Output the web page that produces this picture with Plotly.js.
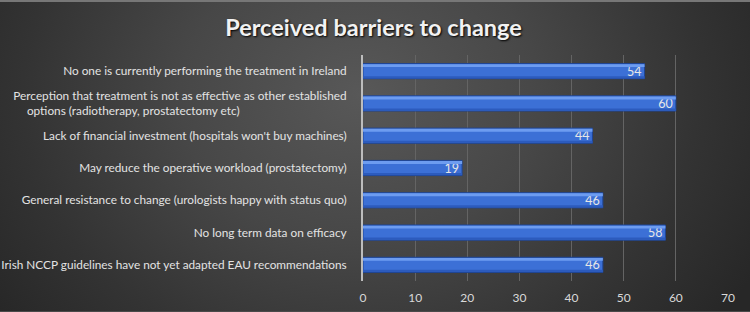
<!DOCTYPE html>
<html>
<head>
<meta charset="utf-8">
<script src="https://cdn.plot.ly/plotly-3.0.1.min.js"></script>
<style>
  html, body { margin: 0; padding: 0; background: #262626; }
  #chart {
    width: 750px; height: 312px; box-sizing: border-box;
    border-top: 2px solid #777777;
    border-bottom: 1px solid #4a4a4a;
    background: radial-gradient(ellipse 60% 120% at 48% 30%, #585858 0%, #474747 40%, #333333 75%, #272727 100%);
  }
</style>
</head>
<body>
<div id="chart"></div>
<script>
// Survey responses: perceived barriers to change (counts)
// invisible trailing run so the wrapped second line sits centred under the first
const pad = "<span style='color:rgba(0,0,0,0)'>oooooooooooooooo</span>";
const barriers = [
  "No one is currently performing the treatment in Ireland",
  "Perception that treatment is not as effective as other established<br>options (radiotherapy, prostatectomy etc)" + pad,
  "Lack of financial investment (hospitals won't buy machines)",
  "May reduce the operative workload (prostatectomy)",
  "General resistance to change (urologists happy with status quo)",
  "No long term data on efficacy",
  "Irish NCCP guidelines have not yet adapted EAU recommendations"
];
const responses = [54, 60, 44, 19, 46, 58, 46];
const xTicks = [0, 10, 20, 30, 40, 50, 60, 70];

const fontFam = "Lato, 'Open Sans', sans-serif";

// main bar body
const body = {
  type: "bar", orientation: "h",
  x: responses, y: barriers,
  width: 0.47,
  marker: { color: "#3c70d6", line: { color: "#1f4594", width: 1 } },
  text: responses.map(String),
  textposition: "inside", insidetextanchor: "end", constraintext: "none",
  textangle: 0,
  textfont: { family: fontFam, size: 12.5, color: "#e6e6e6" },
  cliponaxis: false,
  hoverinfo: "x+y"
};
// light band along the top edge of each bar
const shine = {
  type: "bar", orientation: "h",
  x: responses, y: barriers,
  width: 0.09, offset: -0.215,
  marker: { color: "#6d9cf0", line: { width: 0 } },
  hoverinfo: "skip"
};
// darker band along the bottom edge
const shade = {
  type: "bar", orientation: "h",
  x: responses, y: barriers,
  width: 0.07, offset: 0.155,
  marker: { color: "#2c5bbd", line: { width: 0 } },
  hoverinfo: "skip"
};

const layout = {
  width: 750, height: 309,
  paper_bgcolor: "rgba(0,0,0,0)", plot_bgcolor: "rgba(0,0,0,0)",
  margin: { l: 363, r: 22, t: 53, b: 30 },
  barmode: "overlay",
  showlegend: false,
  title: {
    text: "<b>Perceived barriers to change</b>",
    x: 0.498, xanchor: "center", y: 0.918, yanchor: "middle", yref: "container",
    font: { family: fontFam, size: 23.5, color: "#f2f2f2", shadow: "1px 1px 2px #000" }
  },
  xaxis: {
    range: [0, 70], tickvals: xTicks, ticktext: xTicks.map(String),
    showgrid: true, gridcolor: "#646464", gridwidth: 1,
    zeroline: false, showline: false, ticks: "",
    ticklabelstandoff: 8,
    tickfont: { family: fontFam, size: 12, color: "#d9d9d9" }
  },
  yaxis: {
    type: "category", autorange: "reversed",
    showgrid: false, zeroline: false,
    showline: true, linecolor: "#bdbdbd", linewidth: 2,
    ticks: "", ticklabelstandoff: 12,
    tickfont: { family: fontFam, size: 11.8, color: "#e3e3e3" }
  }
};

Plotly.newPlot("chart", [body, shine, shade], layout, { displayModeBar: false, staticPlot: true });
</script>
</body>
</html>
